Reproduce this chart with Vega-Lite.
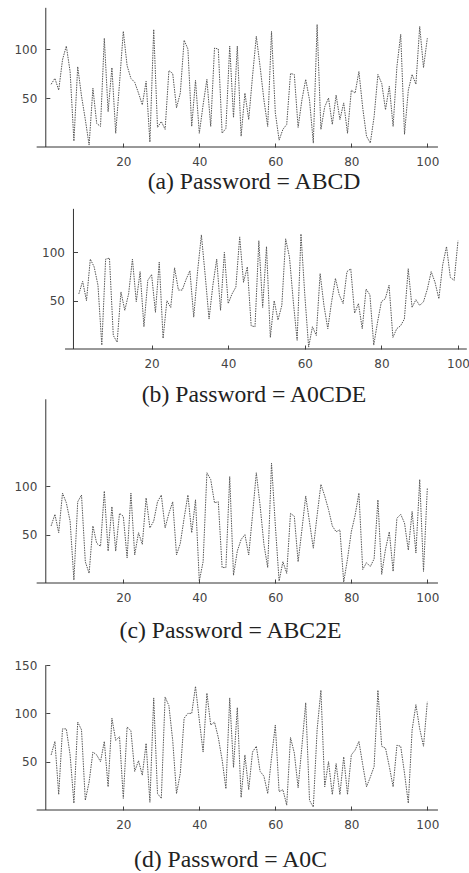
{
  "$schema": "https://vega.github.io/schema/vega-lite/v6.json",
  "padding": 0,
  "background": "white",
  "bounds": "flush",
  "spacing": 0,
  "config": {
    "view": {"stroke": null},
    "axis": {
      "domain": false,
      "grid": false,
      "labelOverlap": false,
      "labelFlush": false,
      "labelFont": "DejaVu Sans",
      "labelFontSize": 12,
      "labelColor": "#444",
      "tickColor": "#444",
      "tickWidth": 1,
      "tickSize": -4,
      "labelPadding": 13,
      "titleFont": "Liberation Serif",
      "titleFontSize": 23.7,
      "titleFontWeight": "normal",
      "titleColor": "#222"
    }
  },
  "datasets": {
    "a": [
      {"i":1,"v":64},{"i":2,"v":70},{"i":3,"v":58},{"i":4,"v":89},{"i":5,"v":103},{"i":6,"v":77},{"i":7,"v":6},{"i":8,"v":82},{"i":9,"v":52},{"i":10,"v":28},
      {"i":11,"v":2},{"i":12,"v":60},{"i":13,"v":24},{"i":14,"v":21},{"i":15,"v":111},{"i":16,"v":36},{"i":17,"v":81},{"i":18,"v":14},{"i":19,"v":65},{"i":20,"v":118},
      {"i":21,"v":83},{"i":22,"v":70},{"i":23,"v":66},{"i":24,"v":55},{"i":25,"v":43},{"i":26,"v":67},{"i":27,"v":5},{"i":28,"v":120},{"i":29,"v":20},{"i":30,"v":26},
      {"i":31,"v":18},{"i":32,"v":78},{"i":33,"v":75},{"i":34,"v":40},{"i":35,"v":55},{"i":36,"v":109},{"i":37,"v":100},{"i":38,"v":21},{"i":39,"v":68},{"i":40,"v":14},
      {"i":41,"v":43},{"i":42,"v":69},{"i":43,"v":21},{"i":44,"v":101},{"i":45,"v":100},{"i":46,"v":14},{"i":47,"v":19},{"i":48,"v":103},{"i":49,"v":30},{"i":50,"v":103},
      {"i":51,"v":11},{"i":52,"v":55},{"i":53,"v":28},{"i":54,"v":72},{"i":55,"v":113},{"i":56,"v":82},{"i":57,"v":48},{"i":58,"v":21},{"i":59,"v":118},{"i":60,"v":35},
      {"i":61,"v":7},{"i":62,"v":18},{"i":63,"v":23},{"i":64,"v":75},{"i":65,"v":74},{"i":66,"v":20},{"i":67,"v":48},{"i":68,"v":69},{"i":69,"v":48},{"i":70,"v":4},
      {"i":71,"v":125},{"i":72,"v":18},{"i":73,"v":41},{"i":74,"v":50},{"i":75,"v":23},{"i":76,"v":53},{"i":77,"v":28},{"i":78,"v":45},{"i":79,"v":14},{"i":80,"v":58},
      {"i":81,"v":55},{"i":82,"v":77},{"i":83,"v":40},{"i":84,"v":11},{"i":85,"v":4},{"i":86,"v":31},{"i":87,"v":74},{"i":88,"v":65},{"i":89,"v":38},{"i":90,"v":62},
      {"i":91,"v":21},{"i":92,"v":82},{"i":93,"v":115},{"i":94,"v":13},{"i":95,"v":58},{"i":96,"v":74},{"i":97,"v":64},{"i":98,"v":123},{"i":99,"v":81},{"i":100,"v":111}
    ],
    "b": [
      {"i":1,"v":57},{"i":2,"v":70},{"i":3,"v":50},{"i":4,"v":93},{"i":5,"v":85},{"i":6,"v":66},{"i":7,"v":4},{"i":8,"v":93},{"i":9,"v":94},{"i":10,"v":14},
      {"i":11,"v":7},{"i":12,"v":59},{"i":13,"v":40},{"i":14,"v":57},{"i":15,"v":93},{"i":16,"v":49},{"i":17,"v":80},{"i":18,"v":23},{"i":19,"v":71},{"i":20,"v":77},
      {"i":21,"v":38},{"i":22,"v":90},{"i":23,"v":11},{"i":24,"v":50},{"i":25,"v":43},{"i":26,"v":84},{"i":27,"v":61},{"i":28,"v":61},{"i":29,"v":72},{"i":30,"v":81},
      {"i":31,"v":33},{"i":32,"v":80},{"i":33,"v":118},{"i":34,"v":76},{"i":35,"v":31},{"i":36,"v":66},{"i":37,"v":93},{"i":38,"v":40},{"i":39,"v":100},{"i":40,"v":47},
      {"i":41,"v":57},{"i":42,"v":64},{"i":43,"v":116},{"i":44,"v":69},{"i":45,"v":85},{"i":46,"v":24},{"i":47,"v":23},{"i":48,"v":112},{"i":49,"v":43},{"i":50,"v":106},
      {"i":51,"v":12},{"i":52,"v":50},{"i":53,"v":30},{"i":54,"v":45},{"i":55,"v":114},{"i":56,"v":95},{"i":57,"v":49},{"i":58,"v":9},{"i":59,"v":119},{"i":60,"v":56},
      {"i":61,"v":2},{"i":62,"v":23},{"i":63,"v":14},{"i":64,"v":78},{"i":65,"v":45},{"i":66,"v":21},{"i":67,"v":49},{"i":68,"v":73},{"i":69,"v":56},{"i":70,"v":47},
      {"i":71,"v":80},{"i":72,"v":83},{"i":73,"v":37},{"i":74,"v":47},{"i":75,"v":21},{"i":76,"v":62},{"i":77,"v":56},{"i":78,"v":4},{"i":79,"v":28},{"i":80,"v":49},
      {"i":81,"v":52},{"i":82,"v":66},{"i":83,"v":12},{"i":84,"v":21},{"i":85,"v":24},{"i":86,"v":31},{"i":87,"v":83},{"i":88,"v":43},{"i":89,"v":51},{"i":90,"v":45},
      {"i":91,"v":49},{"i":92,"v":62},{"i":93,"v":80},{"i":94,"v":69},{"i":95,"v":52},{"i":96,"v":87},{"i":97,"v":106},{"i":98,"v":74},{"i":99,"v":71},{"i":100,"v":112}
    ],
    "c": [
      {"i":1,"v":59},{"i":2,"v":71},{"i":3,"v":52},{"i":4,"v":93},{"i":5,"v":83},{"i":6,"v":64},{"i":7,"v":3},{"i":8,"v":84},{"i":9,"v":91},{"i":10,"v":22},
      {"i":11,"v":10},{"i":12,"v":59},{"i":13,"v":41},{"i":14,"v":38},{"i":15,"v":95},{"i":16,"v":33},{"i":17,"v":79},{"i":18,"v":33},{"i":19,"v":72},{"i":20,"v":69},
      {"i":21,"v":26},{"i":22,"v":93},{"i":23,"v":29},{"i":24,"v":52},{"i":25,"v":40},{"i":26,"v":88},{"i":27,"v":57},{"i":28,"v":64},{"i":29,"v":84},{"i":30,"v":91},
      {"i":31,"v":57},{"i":32,"v":72},{"i":33,"v":84},{"i":34,"v":29},{"i":35,"v":41},{"i":36,"v":67},{"i":37,"v":91},{"i":38,"v":52},{"i":39,"v":86},{"i":40,"v":2},
      {"i":41,"v":22},{"i":42,"v":114},{"i":43,"v":107},{"i":44,"v":83},{"i":45,"v":84},{"i":46,"v":16},{"i":47,"v":16},{"i":48,"v":110},{"i":49,"v":8},{"i":50,"v":33},
      {"i":51,"v":45},{"i":52,"v":50},{"i":53,"v":29},{"i":54,"v":70},{"i":55,"v":114},{"i":56,"v":80},{"i":57,"v":40},{"i":58,"v":16},{"i":59,"v":124},{"i":60,"v":60},
      {"i":61,"v":2},{"i":62,"v":22},{"i":63,"v":10},{"i":64,"v":72},{"i":65,"v":69},{"i":66,"v":22},{"i":67,"v":55},{"i":68,"v":90},{"i":69,"v":63},{"i":70,"v":36},
      {"i":71,"v":70},{"i":72,"v":102},{"i":73,"v":90},{"i":74,"v":76},{"i":75,"v":59},{"i":76,"v":53},{"i":77,"v":55},{"i":78,"v":1},{"i":79,"v":25},{"i":80,"v":53},
      {"i":81,"v":70},{"i":82,"v":93},{"i":83,"v":14},{"i":84,"v":21},{"i":85,"v":17},{"i":86,"v":25},{"i":87,"v":86},{"i":88,"v":9},{"i":89,"v":35},{"i":90,"v":53},
      {"i":91,"v":12},{"i":92,"v":67},{"i":93,"v":71},{"i":94,"v":62},{"i":95,"v":34},{"i":96,"v":74},{"i":97,"v":31},{"i":98,"v":107},{"i":99,"v":12},{"i":100,"v":98}
    ],
    "d": [
      {"i":1,"v":57},{"i":2,"v":71},{"i":3,"v":16},{"i":4,"v":84},{"i":5,"v":84},{"i":6,"v":57},{"i":7,"v":7},{"i":8,"v":91},{"i":9,"v":83},{"i":10,"v":10},
      {"i":11,"v":29},{"i":12,"v":60},{"i":13,"v":57},{"i":14,"v":50},{"i":15,"v":71},{"i":16,"v":24},{"i":17,"v":95},{"i":18,"v":72},{"i":19,"v":76},{"i":20,"v":12},
      {"i":21,"v":86},{"i":22,"v":82},{"i":23,"v":40},{"i":24,"v":51},{"i":25,"v":36},{"i":26,"v":69},{"i":27,"v":8},{"i":28,"v":116},{"i":29,"v":17},{"i":30,"v":12},
      {"i":31,"v":117},{"i":32,"v":108},{"i":33,"v":72},{"i":34,"v":17},{"i":35,"v":38},{"i":36,"v":95},{"i":37,"v":100},{"i":38,"v":100},{"i":39,"v":128},{"i":40,"v":93},
      {"i":41,"v":60},{"i":42,"v":121},{"i":43,"v":88},{"i":44,"v":91},{"i":45,"v":75},{"i":46,"v":52},{"i":47,"v":22},{"i":48,"v":116},{"i":49,"v":44},{"i":50,"v":106},
      {"i":51,"v":13},{"i":52,"v":57},{"i":53,"v":21},{"i":54,"v":60},{"i":55,"v":66},{"i":56,"v":40},{"i":57,"v":35},{"i":58,"v":17},{"i":59,"v":54},{"i":60,"v":88},
      {"i":61,"v":19},{"i":62,"v":21},{"i":63,"v":5},{"i":64,"v":75},{"i":65,"v":59},{"i":66,"v":23},{"i":67,"v":66},{"i":68,"v":111},{"i":69,"v":10},{"i":70,"v":3},
      {"i":71,"v":83},{"i":72,"v":124},{"i":73,"v":24},{"i":74,"v":50},{"i":75,"v":16},{"i":76,"v":48},{"i":77,"v":16},{"i":78,"v":55},{"i":79,"v":16},{"i":80,"v":57},
      {"i":81,"v":62},{"i":82,"v":71},{"i":83,"v":47},{"i":84,"v":24},{"i":85,"v":34},{"i":86,"v":45},{"i":87,"v":124},{"i":88,"v":66},{"i":89,"v":64},{"i":90,"v":45},
      {"i":91,"v":24},{"i":92,"v":67},{"i":93,"v":66},{"i":94,"v":38},{"i":95,"v":7},{"i":96,"v":83},{"i":97,"v":109},{"i":98,"v":84},{"i":99,"v":66},{"i":100,"v":112}
    ]
  },
  "vconcat": [
    {
      "width": 469, "height": 147,
      "layer": [
        {
          "data": {"name": "a"},
          "mark": {"type": "line", "color": "#555", "strokeWidth": 1, "strokeDash": [1.5, 1]},
          "encoding": {
            "x": {"field": "i", "type": "quantitative",
              "scale": {"domain": [-12.45, 110.97], "nice": false, "zero": false},
              "axis": {"values": [20,40,60,80,100], "labelOverlap": false,
                "title": "(a) Password = ABCD", "titleX": 253.5, "titleY": 34, "titleAlign": "center", "titleBaseline": "middle"}},
            "y": {"field": "v", "type": "quantitative",
              "scale": {"domain": [0, 150], "nice": false},
              "axis": {"values": [50,100], "labelOverlap": false, "offset": -45.8, "title": null}}
          }
        },
        {
          "data": {"values": [{}]},
          "mark": {"type": "rule", "color": "#333", "strokeWidth": 1},
          "encoding": {"x": {"datum": -2.8}, "x2": {"datum": 102.8}, "y": {"datum": 0}}
        },
        {
          "data": {"values": [{}]},
          "mark": {"type": "rule", "color": "#333", "strokeWidth": 1},
          "encoding": {"x": {"datum": -0.4}, "y": {"datum": 0}, "y2": {"datum": 142}}
        }
      ]
    },
    {
      "width": 469, "height": 202,
      "layer": [
        {
          "data": {"name": "b"},
          "mark": {"type": "line", "color": "#555", "strokeWidth": 1, "strokeDash": [1.5, 1]},
          "encoding": {
            "x": {"field": "i", "type": "quantitative",
              "scale": {"domain": [-19.58, 102.87], "nice": false, "zero": false},
              "axis": {"values": [20,40,60,80,100], "labelOverlap": false,
                "title": "(b) Password = A0CDE", "titleX": 253.5, "titleY": 45, "titleAlign": "center", "titleBaseline": "middle"}},
            "y": {"field": "v", "type": "quantitative",
              "scale": {"domain": [0, 209], "nice": false},
              "axis": {"values": [50,100], "labelOverlap": false, "offset": -73.5, "title": null}}
          }
        },
        {
          "data": {"values": [{}]},
          "mark": {"type": "rule", "color": "#333", "strokeWidth": 1},
          "encoding": {"x": {"datum": -2.6}, "x2": {"datum": 102.3}, "y": {"datum": 0}}
        },
        {
          "data": {"values": [{}]},
          "mark": {"type": "rule", "color": "#333", "strokeWidth": 1},
          "encoding": {"x": {"datum": -0.4}, "y": {"datum": 0}, "y2": {"datum": 145}}
        }
      ]
    },
    {
      "width": 469, "height": 234,
      "layer": [
        {
          "data": {"name": "c"},
          "mark": {"type": "line", "color": "#555", "strokeWidth": 1, "strokeDash": [1.5, 1]},
          "encoding": {
            "x": {"field": "i", "type": "quantitative",
              "scale": {"domain": [-12.45, 110.97], "nice": false, "zero": false},
              "axis": {"values": [20,40,60,80,100], "labelOverlap": false,
                "title": "(c) Password = ABC2E", "titleX": 230, "titleY": 47, "titleAlign": "center", "titleBaseline": "middle"}},
            "y": {"field": "v", "type": "quantitative",
              "scale": {"domain": [0, 242], "nice": false},
              "axis": {"values": [50,100], "labelOverlap": false, "offset": -45.8, "title": null}}
          }
        },
        {
          "data": {"values": [{}]},
          "mark": {"type": "rule", "color": "#333", "strokeWidth": 1},
          "encoding": {"x": {"datum": -2.8}, "x2": {"datum": 102.8}, "y": {"datum": 0}}
        },
        {
          "data": {"values": [{}]},
          "mark": {"type": "rule", "color": "#333", "strokeWidth": 1},
          "encoding": {"x": {"datum": -0.4}, "y": {"datum": 0}, "y2": {"datum": 190}}
        }
      ]
    },
    {
      "width": 469, "height": 227,
      "layer": [
        {
          "data": {"name": "d"},
          "mark": {"type": "line", "color": "#555", "strokeWidth": 1, "strokeDash": [1.5, 1]},
          "encoding": {
            "x": {"field": "i", "type": "quantitative",
              "scale": {"domain": [-12.45, 110.97], "nice": false, "zero": false},
              "axis": {"values": [20,40,60,80,100], "labelOverlap": false,
                "title": "(d) Password = A0C", "titleX": 230, "titleY": 49, "titleAlign": "center", "titleBaseline": "middle"}},
            "y": {"field": "v", "type": "quantitative",
              "scale": {"domain": [0, 235], "nice": false},
              "axis": {"values": [50,100,150], "labelOverlap": false, "offset": -45.8, "title": null}}
          }
        },
        {
          "data": {"values": [{}]},
          "mark": {"type": "rule", "color": "#333", "strokeWidth": 1},
          "encoding": {"x": {"datum": -2.8}, "x2": {"datum": 102.8}, "y": {"datum": 0}}
        },
        {
          "data": {"values": [{}]},
          "mark": {"type": "rule", "color": "#333", "strokeWidth": 1},
          "encoding": {"x": {"datum": -0.4}, "y": {"datum": 0}, "y2": {"datum": 150}}
        }
      ]
    }
  ]
}
